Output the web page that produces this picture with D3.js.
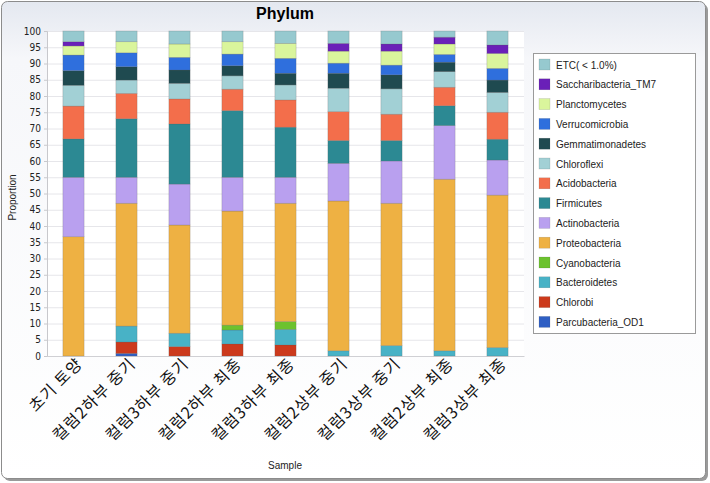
<!DOCTYPE html>
<html>
<head>
<meta charset="utf-8">
<script src="https://cdn.jsdelivr.net/npm/d3@7/dist/d3.min.js"></script>
<style>
  html, body { margin: 0; padding: 0; background: #ffffff; }
  svg { display: block; }
</style>
</head>
<body>
<svg id="chart" width="710" height="483"></svg>
<script>
// ---- Data ----
const samples = ["초기 토양", "컬럼2하부 중기", "컬럼3하부 중기", "컬럼2하부 최종", "컬럼3하부 최종",
                 "컬럼2상부 중기", "컬럼3상부 중기", "컬럼2상부 최종", "컬럼3상부 최종"];

// stacking order, bottom to top
const phyla = ["Parcubacteria_OD1", "Chlorobi", "Bacteroidetes", "Cyanobacteria", "Proteobacteria",
               "Actinobacteria", "Firmicutes", "Acidobacteria", "Chloroflexi", "Gemmatimonadetes",
               "Verrucomicrobia", "Planctomycetes", "Saccharibacteria_TM7", "ETC( < 1.0%)"];

const parcubacteria   = [0,   0.8, 0,   0,   0,   0,   0,   0,   0  ];
const chlorobi        = [0,   3.5, 2.9, 3.7, 3.4, 0,   0,   0,   0  ];
const bacteroidetes   = [0,   4.9, 4.1, 4.3, 4.8, 1.6, 3.2, 1.6, 2.6];
const cyanobacteria   = [0,   0,   0,   1.5, 2.4, 0,   0,   0,   0  ];
const proteobacteria  = [36.7,37.8,33.3,35.1,36.4,46.1,43.8,52.8,46.9];
const actinobacteria  = [18.3,8.0, 12.6,10.4,8.0, 11.6,13.0,16.5,10.8];
const firmicutes      = [11.8,18.0,18.5,20.5,15.4,7.0, 6.3, 6.1, 6.4];
const acidobacteria   = [10.1,7.8, 7.7, 6.6, 8.4, 8.9, 8.1, 5.7, 8.3];
const chloroflexi     = [6.4, 4.1, 4.8, 4.1, 4.6, 7.2, 7.8, 4.8, 6.1];
const gemmatimonadetes= [4.5, 4.1, 4.1, 3.1, 3.6, 4.6, 4.3, 2.9, 3.8];
const verrucomicrobia = [4.8, 4.3, 3.9, 3.6, 4.6, 3.1, 3.0, 2.4, 3.6];
const planctomycetes  = [2.8, 3.4, 4.1, 3.8, 4.6, 3.7, 4.3, 3.2, 4.6];
const saccharibacteria= [1.3, 0,   0,   0,   0,   2.4, 2.2, 2.1, 2.6];
const etc             = [3.3, 3.3, 4.0, 3.3, 3.8, 3.8, 4.0, 1.9, 4.3];

const yTicks = [0,5,10,15,20,25,30,35,40,45,50,55,60,65,70,75,80,85,90,95,100];

const seriesValues = [parcubacteria, chlorobi, bacteroidetes, cyanobacteria, proteobacteria,
  actinobacteria, firmicutes, acidobacteria, chloroflexi, gemmatimonadetes,
  verrucomicrobia, planctomycetes, saccharibacteria, etc];

const colors = {
  "Parcubacteria_OD1": "#2f5fc4",
  "Chlorobi": "#cc3a1c",
  "Bacteroidetes": "#48b2c6",
  "Cyanobacteria": "#6cc22e",
  "Proteobacteria": "#eeb143",
  "Actinobacteria": "#b9a0ef",
  "Firmicutes": "#2c8993",
  "Acidobacteria": "#f36e4b",
  "Chloroflexi": "#a2d0d5",
  "Gemmatimonadetes": "#1f4a50",
  "Verrucomicrobia": "#2f6fdd",
  "Planctomycetes": "#daf59c",
  "Saccharibacteria_TM7": "#6a20b8",
  "ETC( < 1.0%)": "#96c9cf"
};

// ---- Build table ----
const table = samples.map((s, i) => {
  const row = { sample: s };
  phyla.forEach((p, j) => row[p] = seriesValues[j][i]);
  return row;
});

const svg = d3.select("#chart");
const W = 710, H = 483;

// Frame background
const defs = svg.append("defs");
const grad = defs.append("linearGradient").attr("id", "bg").attr("x1", 0).attr("y1", 0).attr("x2", 0).attr("y2", 1);
grad.append("stop").attr("offset", "0%").attr("stop-color", "#e4e8f0");
grad.append("stop").attr("offset", "12%").attr("stop-color", "#f6f7fa");
grad.append("stop").attr("offset", "100%").attr("stop-color", "#ffffff");

svg.append("rect").attr("x", 4).attr("y", 4).attr("width", W - 6).attr("height", H - 6)
  .attr("rx", 6).attr("fill", "#9a9a9a");
svg.append("rect").attr("x", 1.5).attr("y", 1.5).attr("width", W - 6).attr("height", H - 6)
  .attr("rx", 6).attr("fill", "url(#bg)").attr("stroke", "#8c8c8c").attr("stroke-width", 1);

const margin = { left: 47, right: 186, top: 31, bottom: 127 };
const plotW = W - margin.left - margin.right;   // 477
const plotH = H - margin.top - margin.bottom;   // 325

const x = d3.scaleBand().domain(samples).range([margin.left, margin.left + plotW]).paddingInner(0.6).paddingOuter(0.3);
const y = d3.scaleLinear().domain([0, 100]).range([margin.top + plotH, margin.top]);

// Plot area
svg.append("rect").attr("x", margin.left).attr("y", margin.top).attr("width", plotW).attr("height", plotH)
  .attr("fill", "#ffffff");

// grid
svg.append("g").selectAll("line").data(yTicks).join("line")
  .attr("x1", margin.left).attr("x2", margin.left + plotW)
  .attr("y1", d => y(d) + 0.5).attr("y2", d => y(d) + 0.5)
  .attr("stroke", "#e6e6ea").attr("stroke-width", 1);

// y axis
const yAxis = d3.axisLeft(y).tickValues(yTicks).tickSize(3).tickPadding(3);
const gy = svg.append("g").attr("transform", `translate(${margin.left},0)`).call(yAxis);
gy.select(".domain").attr("stroke", "#c8c8cc");
gy.selectAll(".tick line").attr("stroke", "#c8c8cc");
gy.selectAll("text").attr("font-family", "'Liberation Sans Narrow', 'DejaVu Sans Condensed', Arial, sans-serif")
  .attr("font-size", 10).attr("fill", "#222");

// x axis labels
const xAxis = d3.axisBottom(x).tickSize(0).tickPadding(0);
const gx = svg.append("g").attr("transform", `translate(0,${margin.top + plotH})`).call(xAxis);
gx.select(".domain").attr("stroke", "#d0d0d4");
gx.selectAll("text")
  .attr("font-family", "'Noto Sans CJK KR', sans-serif")
  .attr("font-size", 16)
  .attr("letter-spacing", 1)
  .attr("fill", "#111")
  .attr("text-anchor", "end")
  .attr("dy", 0)
  .attr("transform", "translate(10,9) rotate(-45)");

// stacks
const stack = d3.stack().keys(phyla);
const stacked = stack(table);

svg.append("g").selectAll("g").data(stacked).join("g")
  .attr("fill", d => colors[d.key])
  .selectAll("rect").data(d => d.filter(v => v[1] - v[0] > 0)).join("rect")
  .attr("x", d => x(d.data.sample))
  .attr("width", x.bandwidth())
  .attr("y", d => y(d[1]))
  .attr("height", d => y(d[0]) - y(d[1]))
  .attr("stroke", "rgba(90,90,90,0.35)")
  .attr("stroke-width", 0.6);

// Title
svg.append("text").attr("x", 285).attr("y", 19).attr("text-anchor", "middle")
  .attr("font-family", "'Liberation Sans', Arial, sans-serif").attr("font-weight", "bold")
  .attr("font-size", 16).attr("fill", "#000").text("Phylum");

// Axis titles
svg.append("text").attr("transform", `translate(16,${margin.top + plotH / 2 + 4}) rotate(-90)`)
  .attr("text-anchor", "middle").attr("font-family", "'Liberation Sans', Arial, sans-serif")
  .attr("font-size", 10).attr("fill", "#222").text("Proportion");
svg.append("text").attr("x", 285).attr("y", 469).attr("text-anchor", "middle")
  .attr("font-family", "'Liberation Sans', Arial, sans-serif")
  .attr("font-size", 10).attr("fill", "#222").text("Sample");

// Legend
const legendItems = phyla.slice().reverse();
const lg = svg.append("g");
lg.append("rect").attr("x", 533.5).attr("y", 53.5).attr("width", 162).attr("height", 280)
  .attr("fill", "#ffffff").attr("stroke", "#9a9a9a").attr("stroke-width", 1);
const li = lg.selectAll("g.item").data(legendItems).join("g").attr("class", "item")
  .attr("transform", (d, i) => `translate(539,${59 + i * 19.8})`);
li.append("rect").attr("width", 11).attr("height", 11).attr("fill", d => colors[d])
  .attr("stroke", "rgba(80,80,80,0.3)").attr("stroke-width", 0.5);
li.append("text").attr("x", 17).attr("y", 9.5)
  .attr("font-family", "'Liberation Sans', Arial, sans-serif")
  .attr("font-size", 10).attr("fill", "#222").text(d => d);
</script>
</body>
</html>
